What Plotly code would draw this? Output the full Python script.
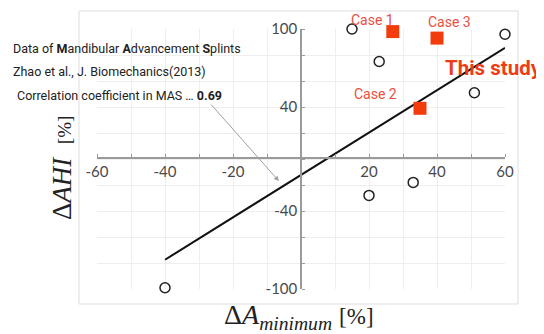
import plotly.graph_objects as go

W, H = 544, 334
OFF = 8  # page body margin of the browser

# ---- data ----
mas_x = [-40, 15, 23, 60, 51, 20, 33]
mas_y = [-99, 100, 75, 96, 51, -28, -18]

case_names = ["Case 1", "Case 2", "Case 3"]
case_x = [27, 35, 40]
case_y = [98, 39, 93]

reg_x = [-40, 60]
reg_y = [-77.5, 85.5]

x_ticks = [-60, -40, -20, 20, 40, 60]
y_ticks = [100, 40, -40, -100]


def px(x):
    return (x - OFF) / W


def py(y):
    return 1 - (y - OFF) / H


fig = go.Figure()

fig.add_trace(go.Scatter(
    x=reg_x, y=reg_y, mode="lines",
    line=dict(color="#111111", width=2), cliponaxis=False, showlegend=False,
))
fig.add_trace(go.Scatter(
    x=mas_x, y=mas_y, mode="markers",
    marker=dict(symbol="circle-open", size=10, color="#222222", line=dict(width=1.5)),
    cliponaxis=False, showlegend=False,
))
fig.add_trace(go.Scatter(
    x=case_x, y=case_y, mode="markers",
    marker=dict(symbol="square", size=13, color="#f23c0c"),
    cliponaxis=False, showlegend=False,
))

red_txt = "#e8503f"
narrow = "Roboto, sans-serif"
annotations = []
case_label_pos = {"Case 1": (372, 20), "Case 2": (375, 94), "Case 3": (449, 22)}
for name in case_names:
    lx, ly = case_label_pos[name]
    annotations.append(dict(
        x=px(lx), y=py(ly), xref="paper", yref="paper", text=name, showarrow=False,
        xanchor="center", yanchor="middle",
        font=dict(family=narrow, size=14, color=red_txt),
    ))

annotations.append(dict(
    x=px(493), y=py(68), xref="paper", yref="paper", text="<b>This study</b>",
    showarrow=False, xanchor="center", yanchor="middle",
    font=dict(family=narrow, size=20.5, color="#f03c14"),
))

txt_font = dict(family=narrow, size=12.5, color="#222222")
annotations += [
    dict(x=px(11), y=py(48), xref="paper", yref="paper", showarrow=False,
         xanchor="left", yanchor="middle", font=txt_font,
         text="Data of <b>M</b>andibular <b>A</b>dvancement <b>S</b>plints"),
    dict(x=px(11), y=py(72), xref="paper", yref="paper", showarrow=False,
         xanchor="left", yanchor="middle", font=txt_font,
         text="Zhao et al., J. Biomechanics(2013)"),
    dict(x=px(15), y=py(95), xref="paper", yref="paper", showarrow=False,
         xanchor="left", yanchor="middle", font=txt_font,
         text="Correlation coefficient in MAS … <b>0.69</b>"),
]

# arrow from text to regression line
annotations.append(dict(
    x=-6.5, y=-17, xref="x", yref="y", ax=-26.8, ay=43, axref="x", ayref="y",
    showarrow=True, arrowhead=2, arrowsize=1, arrowwidth=1, arrowcolor="#a0a0a0", text="",
))

# axis titles
annotations.append(dict(
    x=px(299), y=py(316), xref="paper", yref="paper", showarrow=False,
    xanchor="center", yanchor="middle",
    text="Δ<i>A</i><sub><i>minimum</i></sub> <span style='font-size:23px'>[%]</span>",
    font=dict(family="Liberation Serif, serif", size=28, color="#222222"),
))
annotations.append(dict(
    x=px(62), y=py(168), xref="paper", yref="paper", showarrow=False,
    xanchor="center", yanchor="middle", textangle=-90,
    text="Δ<i>AHI</i>  <span style='font-size:19px'>[%]</span>",
    font=dict(family="Liberation Serif, serif", size=27, color="#222222"),
))

x_dom = [px(97), px(505)]
y_dom = [py(289), py(29)]

tick_font = dict(family="Lato, sans-serif", size=15, color="#4a4a4a")

fig.update_layout(
    width=W, height=H,
    margin=dict(l=0, r=0, t=0, b=0, autoexpand=False),
    paper_bgcolor="white", plot_bgcolor="white",
    showlegend=False,
    annotations=annotations,
    shapes=[dict(type="rect", xref="paper", yref="paper",
                 x0=px(79), x1=px(518), y0=py(304), y1=py(11),
                 line=dict(color="#dddddd", width=1), layer="below")],
    xaxis=dict(
        domain=x_dom, range=[-60, 60], anchor="free", position=py(158),
        automargin=False,
        tickvals=x_ticks, ticktext=[str(v) for v in x_ticks],
        showgrid=True, gridcolor="#eeeeee", zeroline=False,
        showline=True, linecolor="#9a9a9a", linewidth=1.5,
        ticks="", tickfont=tick_font,
        minor=dict(dtick=10, tick0=0, showgrid=True, gridcolor="#eeeeee",
                   ticks="inside", ticklen=3, tickcolor="#9a9a9a"),
        fixedrange=True,
    ),
    yaxis=dict(
        domain=y_dom, range=[-100, 100], anchor="free", position=px(301),
        automargin=False,
        tickvals=y_ticks, ticktext=[str(v) for v in y_ticks],
        showgrid=True, gridcolor="#eeeeee", zeroline=False,
        showline=True, linecolor="#9a9a9a", linewidth=1.5,
        ticks="", tickfont=tick_font,
        minor=dict(dtick=20, tick0=0, showgrid=True, gridcolor="#eeeeee",
                   ticks="inside", ticklen=3, tickcolor="#9a9a9a"),
        fixedrange=True,
    ),
)

fig.write_html("out.html")
